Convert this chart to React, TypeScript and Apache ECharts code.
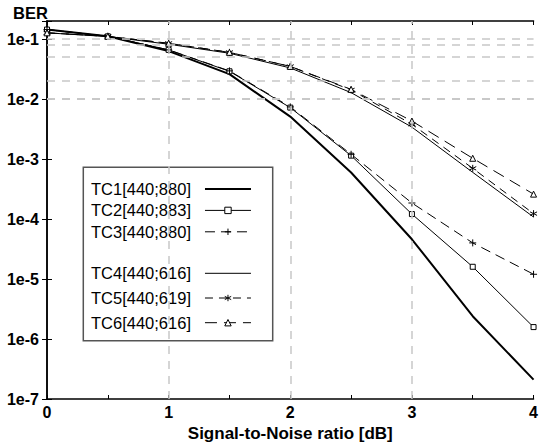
import React, { useEffect, useRef } from "react";
import * as echarts from "echarts";

const snr = [0, 0.5, 1, 1.5, 2, 2.5, 3, 3.5, 4];
const tc1 = [0.144, 0.111, 0.063, 0.026, 5.1e-3, 5.96e-4, 4.6e-5, 2.4e-6, 2.1e-7];
const tc2 = [0.144, 0.111, 0.066, 0.029, 7.2e-3, 1.14e-3, 1.21e-4, 1.6e-5, 1.58e-6];
const tc3 = [0.144, 0.111, 0.066, 0.0295, 7.4e-3, 1.2e-3, 1.85e-4, 4.0e-5, 1.2e-5];
const tc4 = [0.127, 0.11, 0.082, 0.058, 0.033, 0.0128, 3.4e-3, 6.0e-4, 1.08e-4];
const tc5 = [0.127, 0.111, 0.085, 0.06, 0.035, 0.0142, 3.8e-3, 7.0e-4, 1.23e-4];
const tc6 = [0.127, 0.111, 0.085, 0.06, 0.035, 0.0145, 4.3e-3, 1.03e-3, 2.6e-4];

const names = [
  "TC1[440;880]",
  "TC2[440;883]",
  "TC3[440;880]",
  "TC4[440;616]",
  "TC5[440;619]",
  "TC6[440;616]",
];

const xTickLabels: Record<string, string> = { "0": "0", "1": "1", "2": "2", "3": "3", "4": "4" };
const yTickLabels: Record<string, string> = {
  "-7": "1e-7",
  "-6": "1e-6",
  "-5": "1e-5",
  "-4": "1e-4",
  "-3": "1e-3",
  "-2": "1e-2",
  "-1": "1e-1",
};
const gridMantissas = [1, 2, 5, 8];
const gridExponents = [-7, -6, -5, -4, -3, -2, -1];
const xGridValues = [1, 2, 3];

const FONT = "'Liberation Sans', Arial, Helvetica, sans-serif";

const PLUS = "path://M0,5L10,5M5,0L5,10";
const STAR = "path://M5,0L5,10M0.67,2.5L9.33,7.5M0.67,7.5L9.33,2.5";

export default function App() {
  const ref = useRef<HTMLDivElement>(null);
  useEffect(() => {
    document.body.style.margin = "0";
    if (!ref.current) return;
    const chart = echarts.init(ref.current, undefined, { renderer: "svg" });

    const yGrid: number[] = [];
    gridExponents.forEach((e) =>
      gridMantissas.forEach((m) => {
        const v = m * Math.pow(10, e);
        if (v > 1e-7 && v < 0.2) yGrid.push(v);
      })
    );

    const mk = (d: number[]) => snr.map((x, i) => [x, d[i]]);
    const symStyle = { color: "#fff", borderColor: "#000", borderWidth: 1 };

    const lineStyles: any[] = [
      { color: "#000", width: 2, type: "solid" },
      { color: "#000", width: 1, type: "solid" },
      { color: "#000", width: 1, type: [10, 6] },
      { color: "#000", width: 1, type: "solid" },
      { color: "#000", width: 1, type: [8, 6] },
      { color: "#000", width: 1, type: [12, 7] },
    ];
    const symbols = ["none", "rect", PLUS, "none", STAR, "triangle"];
    const symbolSizes = [0, 5, 7, 0, 7, 6];
    const datasets = [tc1, tc2, tc3, tc4, tc5, tc6];

    const series: any[] = [
      {
        type: "line",
        data: [],
        silent: true,
        z: 1,
        animation: false,
        markLine: {
          silent: true,
          symbol: ["none", "none"],
          label: { show: false },
          lineStyle: { color: "#c8c8c8", width: 1.5, type: [8, 7] },
          emphasis: { disabled: true },
          animation: false,
          data: [
            ...yGrid.map((v) => ({ yAxis: v })),
            ...xGridValues.map((v) => ({ xAxis: v })),
          ],
        },
      },
      ...datasets.map((d, i) => ({
        name: names[i],
        type: "line",
        data: mk(d),
        symbol: symbols[i],
        symbolSize: symbolSizes[i],
        showAllSymbol: true,
        lineStyle: lineStyles[i],
        itemStyle: symStyle,
        animation: false,
        emphasis: { disabled: true },
      })),
    ];

    const legendBase = {
      orient: "vertical",
      left: 91,
      align: "right",
      itemWidth: 46,
      itemHeight: 8,
      padding: 0,
      selectedMode: false,
      textStyle: {
        fontSize: 16.5,
        fontFamily: FONT,
        color: "#000",
        lineHeight: 18,
        padding: [0, 9, 0, 0],
      },
    };
    const legendItem = (i: number) => ({
      name: names[i],
      lineStyle: { ...lineStyles[i] },
      itemStyle:
        symbols[i] === "none"
          ? { opacity: 0 }
          : { color: "#fff", borderColor: "#000", borderWidth: 1 },
    });

    const axisCommonX = {
      type: "value",
      min: 0,
      max: 4,
      interval: 0.5,
      axisLine: { show: true, lineStyle: { color: "#000", width: 1.5 } },
      axisTick: { show: true, inside: true, length: 4, lineStyle: { color: "#000", width: 1 } },
      splitLine: { show: false },
    };
    const axisCommonY = {
      type: "log",
      logBase: 10,
      min: 1e-7,
      max: 0.2,
      splitNumber: 7,
      axisLine: { show: true, lineStyle: { color: "#000", width: 1.5 } },
      axisTick: { show: true, inside: true, length: 5, lineStyle: { color: "#000", width: 1 } },
      splitLine: { show: false },
    };

    chart.setOption({
      animation: false,
      backgroundColor: "#fff",
      title: {
        text: "BER",
        left: 13,
        top: 4,
        padding: 0,
        textStyle: { fontSize: 16.5, fontWeight: "bold", fontFamily: FONT, color: "#000" },
      },
      grid: { left: 47, right: 1, top: 21, bottom: 45.5, containLabel: false },
      xAxis: [
        {
          ...axisCommonX,
          position: "bottom",
          name: "Signal-to-Noise ratio [dB]",
          nameLocation: "middle",
          nameGap: 26,
          nameTextStyle: { fontSize: 17, fontWeight: "bold", fontFamily: FONT, color: "#000" },
          axisLabel: {
            show: true,
            margin: 5,
            fontSize: 16,
            fontWeight: "bold",
            fontFamily: FONT,
            color: "#000",
            formatter: (v: number) => xTickLabels[String(v)] ?? "",
          },
        },
        { ...axisCommonX, position: "top", axisLabel: { show: false } },
      ],
      yAxis: [
        {
          ...axisCommonY,
          position: "left",
          axisLabel: {
            show: true,
            margin: 8,
            fontSize: 16,
            fontWeight: "bold",
            fontFamily: FONT,
            color: "#000",
            formatter: (v: number) => {
              const e = Math.log10(v);
              const r = Math.round(e);
              if (Math.abs(e - r) > 1e-6) return "";
              return yTickLabels[String(r)] ?? "";
            },
          },
        },
        { ...axisCommonY, position: "right", axisLabel: { show: false } },
      ],
      graphic: [
        {
          type: "rect",
          z: 3,
          shape: { x: 83.3, y: 167.3, width: 189.4, height: 173.4 },
          style: { fill: "#fff", stroke: "#555", lineWidth: 1.5 },
          silent: true,
        },
      ],
      legend: [
        {
          ...legendBase,
          top: 180,
          itemGap: 3.4,
          data: [legendItem(0), legendItem(1), legendItem(2)],
        },
        {
          ...legendBase,
          top: 264.3,
          itemGap: 6.7,
          data: [legendItem(3), legendItem(4), legendItem(5)],
        },
      ],
      series,
    });
    return () => chart.dispose();
  }, []);
  return <div ref={ref} style={{ width: 541, height: 447 }} />;
}
